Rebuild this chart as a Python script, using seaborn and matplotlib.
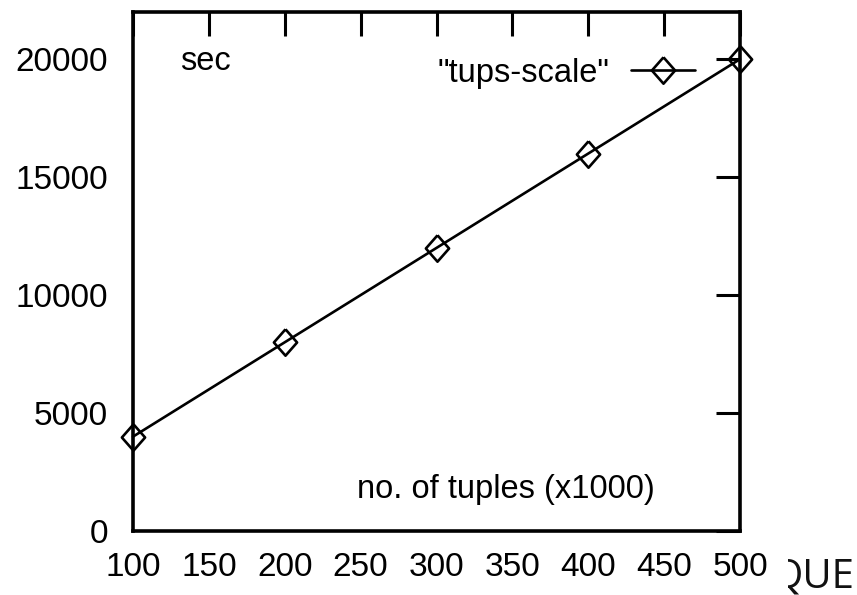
import matplotlib
matplotlib.use("Agg")
import matplotlib.pyplot as plt
from matplotlib.transforms import Bbox
from matplotlib.lines import Line2D
import seaborn as sns
import pandas as pd

# data
tuples_k = [100, 200, 300, 400, 500]
seconds = [4000, 8000, 12000, 16000, 20000]
series_name = '"tups-scale"'
x_ticks = [100, 150, 200, 250, 300, 350, 400, 450, 500]
y_ticks = [0, 5000, 10000, 15000, 20000]
y_label = "sec"
x_label = "no. of tuples (x1000)"
corner_text = "QUE"

sns.set_theme(style="white")
plt.rcParams["font.family"] = ["Liberation Sans", "DejaVu Sans"]
plt.rcParams["text.color"] = "black"

df = pd.DataFrame({"x": tuples_k, "y": seconds})

fig = plt.figure(figsize=(8.57, 5.95), dpi=100)
ax = fig.add_axes([133 / 857, 64 / 595, 607 / 857, 519 / 595])

diamond = [(0, 1), (0.88, 0), (0, -1), (-0.88, 0), (0, 1)]
sns.lineplot(data=df, x="x", y="y", ax=ax, color="black", linewidth=1.9,
             marker=diamond, markersize=19, markerfacecolor="none",
             markeredgecolor="black", markeredgewidth=1.9, clip_on=False,
             legend=False)

ax.set_xlim(100, 500)
ax.set_ylim(0, 22000)
ax.set_xticks(x_ticks)
ax.set_yticks(y_ticks)
ax.set_xticklabels([str(v) for v in x_ticks])
ax.set_yticklabels([str(v) for v in y_ticks])
ax.set_xlabel("")
ax.set_ylabel("")
ax.tick_params(axis="both", which="both", direction="in", length=17, width=2.2,
               colors="black", labelsize=24, top=True, right=True,
               labeltop=False, labelright=False)
ax.tick_params(axis="x", pad=15)
ax.tick_params(axis="y", pad=18)
for s in ax.spines.values():
    s.set_visible(True)
    s.set_linewidth(2.6)
    s.set_color("black")

ax.text(0.077, 0.904, y_label, transform=ax.transAxes, fontsize=23.5,
        ha="left", va="center", color="black")
ax.text(0.86, 0.079, x_label, transform=ax.transAxes, fontsize=23.5,
        ha="right", va="center", color="black")

handle = Line2D([], [], color="black", linewidth=1.9, marker=diamond,
                markersize=19, markerfacecolor="none", markeredgecolor="black",
                markeredgewidth=1.9)
ax.legend([handle], [series_name], loc="center right",
          bbox_to_anchor=(0.926, 0.882), frameon=False, markerfirst=False,
          handlelength=1.95, handletextpad=0.66, borderpad=0, borderaxespad=0,
          fontsize=23.5, labelcolor="black")

t = fig.text(854 / 857, 1 - 577 / 595, corner_text, fontsize=29,
             family=["Open Sans", "DejaVu Sans"], color="#111111",
             ha="right", va="center")
t.set_clip_box(Bbox.from_extents(788, 0, 857, 595))
t.set_clip_on(True)

fig.savefig("out.png", dpi=100)
